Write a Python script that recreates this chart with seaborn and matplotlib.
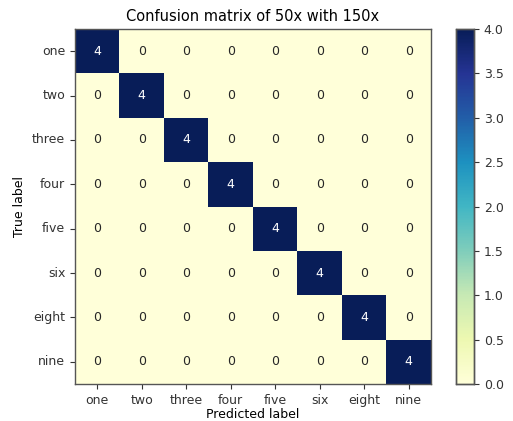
import numpy as np
import pandas as pd
import seaborn as sns
import matplotlib.pyplot as plt

# Class labels and confusion counts (diagonal only)
labels = ["one", "two", "three", "four", "five", "six", "eight", "nine"]
diag_counts = [4, 4, 4, 4, 4, 4, 4, 4]
cbar_ticks = [0, 0.5, 1, 1.5, 2, 2.5, 3, 3.5, 4]

cm = pd.DataFrame(np.diag(diag_counts), index=labels, columns=labels)

fig = plt.figure(figsize=(5.13, 4.21), dpi=100)
ax = fig.add_axes([0.146, 0.088, 0.694, 0.843])
cax = fig.add_axes([0.889, 0.088, 0.035, 0.843])

sns.heatmap(cm, ax=ax, cbar_ax=cax, cmap="YlGnBu", vmin=0, vmax=4,
            annot=True, fmt="d", annot_kws={"fontsize": 9},
            linewidths=0)

for s in list(ax.spines.values()) + list(cax.spines.values()):
    s.set_visible(True)
    s.set_color("#555555")
    s.set_linewidth(1.0)

ax.tick_params(axis="both", length=3.5, labelsize=9, colors="#333333")
ax.set_yticklabels(labels, rotation=0)
ax.set_xticklabels(labels, rotation=0)
cax.set_yticks(cbar_ticks)
cax.set_yticklabels([f"{v:.1f}" for v in cbar_ticks])
cax.tick_params(labelsize=9, length=3.5, colors="#333333")

ax.set_title("Confusion matrix of 50x with 150x", fontsize=10.5)
ax.set_ylabel("True label", fontsize=9)
ax.set_xlabel("Predicted label", fontsize=9, labelpad=1)

plt.savefig("out.png", dpi=100)
